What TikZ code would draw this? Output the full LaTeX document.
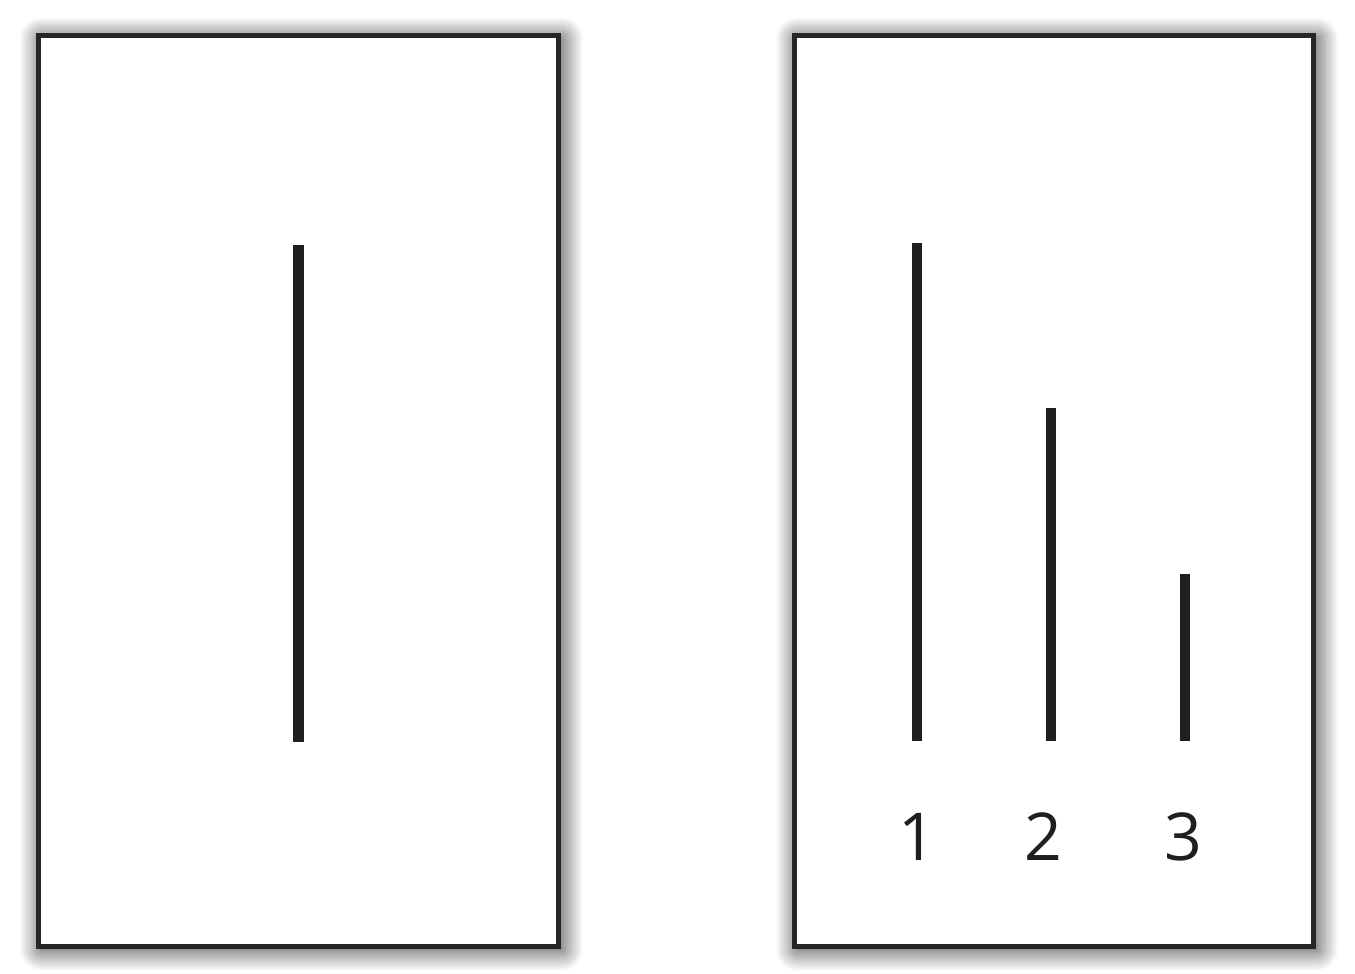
\documentclass[tikz,border=0pt]{standalone}
\usepackage{fontspec}
\setmainfont{Open Sans}
\usetikzlibrary{shadows.blur}
\tikzset{
  card/.style={draw=black!85, line width=5pt, fill=white, minimum width=#1, inner sep=0pt,
    blur shadow={shadow xshift=3pt, shadow yshift=-3pt, shadow blur radius=22pt, shadow blur steps=20, shadow opacity=85}},
  bar/.style={line width=10.5pt, draw=black!88},
  numlabel/.style={font=\fontsize{66}{66}\selectfont, text=black!88, anchor=base, inner sep=0pt}
}
\begin{document}
\begin{tikzpicture}[x=1pt,y=-1pt]
\useasboundingbox (0,0) rectangle (1355,974);
% cards
\node[card=520pt, minimum height=910pt] (left) at (298.5,491) {};
\node[card=519pt, minimum height=910pt] (right) at (1054,491) {};
% bars
\coordinate (a1) at (298.5,245); \coordinate (a2) at (298.5,742);
\draw[bar] (a1) -- (a2);
\coordinate (b1) at (917,243); \coordinate (b2) at (917,741);
\draw[bar] (b1) -- (b2);
\coordinate (c1) at (1051,408); \coordinate (c2) at (1051,741);
\draw[bar] (c1) -- (c2);
\coordinate (d1) at (1185,574); \coordinate (d2) at (1185,741);
\draw[bar] (d1) -- (d2);
% labels
\node[numlabel] (n1) at (917,860) {1};
\node[numlabel] (n2) at (1043,860) {2};
\node[numlabel] (n3) at (1183,860) {3};
\end{tikzpicture}
\end{document}
